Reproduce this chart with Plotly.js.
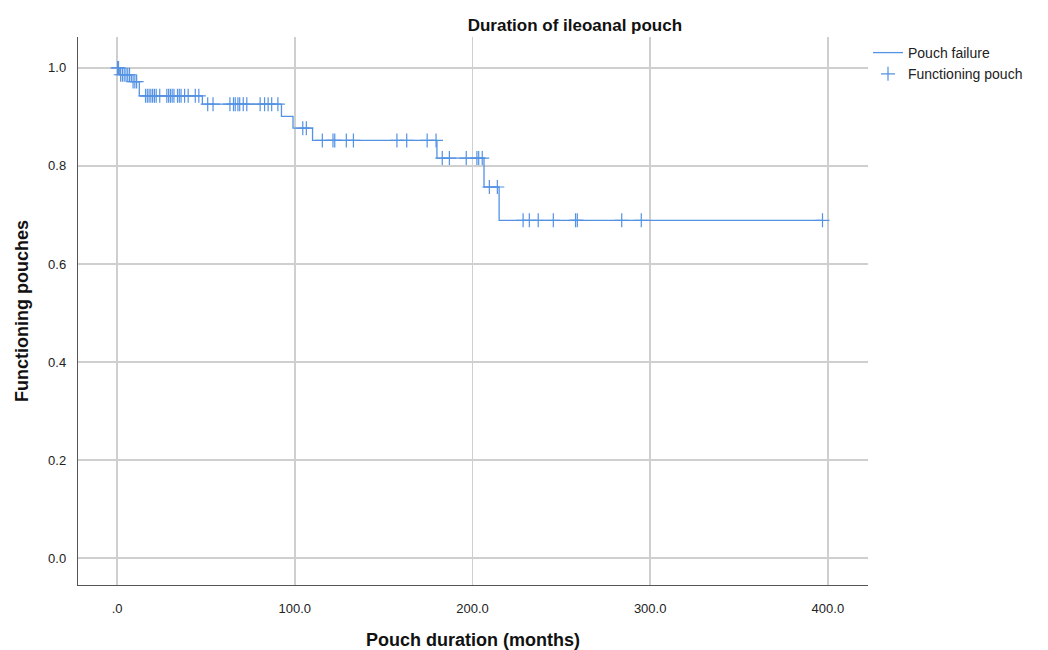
<!DOCTYPE html>
<html>
<head>
<meta charset="utf-8">
<script src="https://cdn.plot.ly/plotly-3.0.1.min.js"></script>
<style>html,body{margin:0;padding:0;background:#fff;}#chart{width:1048px;height:650px;}</style>
</head>
<body>
<div id="chart"></div>
<script>
// Kaplan-Meier step curve: time (months) at which survival drops, and survival after the drop
const eventTimes = [0, 1.5, 8, 12.5, 48, 92.5, 99, 110, 180, 206.5, 215];
const eventSurv  = [1.0, 0.986, 0.972, 0.943, 0.926, 0.901, 0.877, 0.852, 0.816, 0.757, 0.689];
const lastTime = 397;
// Censored observations (functioning pouch), months
const censorTimes = [0.3, 0.8, 2, 3, 4, 5, 6, 7, 9, 10, 11,
  16, 17, 18, 19, 20, 21, 22, 24, 28, 29, 30, 31, 32, 34, 35, 36, 38, 40, 44, 46,
  51, 54, 63.5, 65.5, 66.5, 68, 69, 71, 73, 80.5, 83, 85, 87, 90.5,
  104.5, 106.5,
  115.5, 121.5, 122.5, 129, 133, 157.5, 163, 174.5, 179.5,
  183, 187, 196.5, 202.5, 203.5, 205.5,
  209.5, 214,
  228.5, 232, 237, 245.5, 258, 259, 284, 295, 397];
const xTickVals = [0, 100, 200, 300, 400];
const xTickText = ['.0', '100.0', '200.0', '300.0', '400.0'];
const yTickVals = [0, 0.2, 0.4, 0.6, 0.8, 1.0];
const yTickText = ['0.0', '0.2', '0.4', '0.6', '0.8', '1.0'];

function survAt(t) {
  let s = eventSurv[0];
  for (let i = 0; i < eventTimes.length; i++) { if (eventTimes[i] <= t) s = eventSurv[i]; }
  return s;
}
const lineX = eventTimes.concat([lastTime]);
const lineY = eventSurv.concat([eventSurv[eventSurv.length - 1]]);
const censorY = censorTimes.map(survAt);

const blue = 'rgb(84,146,228)';
const data = [
  {x: lineX, y: lineY, type: 'scatter', mode: 'lines', name: 'Pouch failure',
   line: {shape: 'hv', color: blue, width: 1.3}},
  {x: censorTimes, y: censorY, type: 'scatter', mode: 'markers', name: 'Functioning pouch',
   marker: {symbol: 'cross-thin', size: 10, color: blue, line: {color: blue, width: 1.2}}}
];
const fontFam = '"Liberation Sans", Arial, sans-serif';
const layout = {
  width: 1048, height: 650,
  margin: {l: 78, r: 180, t: 37, b: 65},
  paper_bgcolor: '#fff', plot_bgcolor: '#fff',
  font: {family: fontFam, size: 13, color: '#222'},
  title: {text: '<b>Duration of ileoanal pouch</b>', font: {family: fontFam, size: 17, color: '#111'},
          xref: 'paper', x: 0.629, xanchor: 'center', yref: 'container', y: 0.962, yanchor: 'middle'},
  xaxis: {range: [-22, 422.6], tickvals: xTickVals, ticktext: xTickText,
          showgrid: true, gridcolor: '#cfcfcf', gridwidth: 1.5, zeroline: false,
          showline: true, linecolor: '#555', linewidth: 1.2,
          ticks: 'outside', ticklen: 11, tickcolor: 'rgba(0,0,0,0)',
          tickfont: {family: fontFam, size: 13, color: '#222'},
          title: {text: '<b>Pouch duration (months)</b>', font: {family: fontFam, size: 18, color: '#111'}, standoff: 18}},
  yaxis: {range: [-0.055, 1.063], tickvals: yTickVals, ticktext: yTickText,
          showgrid: true, gridcolor: '#cfcfcf', gridwidth: 1.5, zeroline: false,
          showline: true, linecolor: '#555', linewidth: 1.2,
          ticks: 'outside', ticklen: 8, tickcolor: 'rgba(0,0,0,0)',
          tickfont: {family: fontFam, size: 13, color: '#222'},
          title: {text: '<b>Functioning pouches</b>', font: {family: fontFam, size: 18, color: '#111'}, standoff: 14}},
  showlegend: true,
  legend: {x: 1.0, xanchor: 'left', y: 1.0, yanchor: 'top', font: {family: fontFam, size: 14, color: '#222'},
           bgcolor: 'rgba(0,0,0,0)', tracegroupgap: 0, itemwidth: 30}
};
Plotly.newPlot('chart', data, layout, {displayModeBar: false, staticPlot: true});
</script>
</body>
</html>
